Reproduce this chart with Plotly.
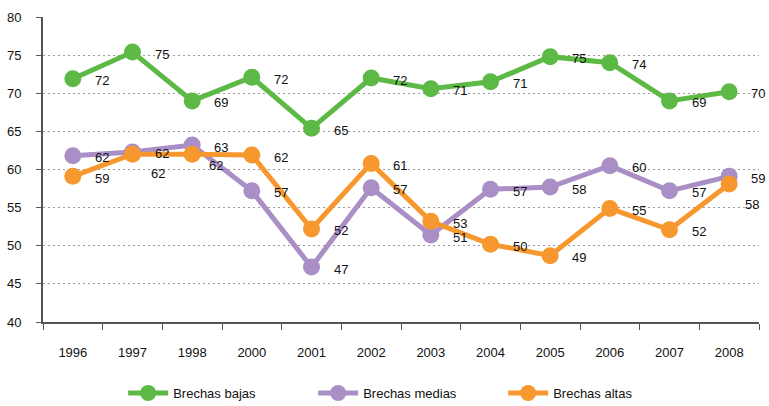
import plotly.graph_objects as go

years = ["1996", "1997", "1998", "2000", "2001", "2002", "2003", "2004", "2005", "2006", "2007", "2008"]
bajas = [71.9, 75.4, 69.0, 72.1, 65.4, 72.0, 70.6, 71.5, 74.8, 74.0, 69.0, 70.2]
medias = [61.8, 62.3, 63.2, 57.2, 47.2, 57.6, 51.4, 57.4, 57.7, 60.5, 57.2, 59.1]
altas = [59.1, 62.0, 62.0, 61.9, 52.2, 60.8, 53.2, 50.2, 48.7, 54.9, 52.1, 58.1]
bajas_labels = ["72", "75", "69", "72", "65", "72", "71", "71", "75", "74", "69", "70"]
medias_labels = ["62", "62", "63", "57", "47", "57", "51", "57", "58", "60", "57", "59"]
altas_labels = ["59", "62", "62", "62", "52", "61", "53", "50", "49", "55", "52", "58"]
names = ["Brechas bajas", "Brechas medias", "Brechas altas"]
colors = ["#5DB946", "#A98FC5", "#F7982E"]

series = [bajas, medias, altas]
labels = [bajas_labels, medias_labels, altas_labels]

FONT = "Liberation Sans, Arial, sans-serif"

fig = go.Figure()
for name, vals, col in zip(names, series, colors):
    fig.add_trace(go.Scatter(
        x=years, y=vals, name=name, mode="lines+markers",
        line=dict(color=col, width=5),
        marker=dict(color=col, size=17),
    ))

# label offsets (px): default right of marker, slightly below
annotations = []
for si, (vals, labs) in enumerate(zip(series, labels)):
    for i, (yr, v, t) in enumerate(zip(years, vals, labs)):
        dx, dy = 29, -2
        if si == 2 and yr == "1997":
            dx, dy = 25, -19
        if si == 2 and yr == "1998":
            dx, dy = 24, -11
        if si == 2 and yr == "2008":
            dx, dy = 23, -21
        annotations.append(dict(
            x=i, y=v, xref="x", yref="y", text=t, showarrow=False,
            xshift=dx, yshift=dy,
            font=dict(family=FONT, size=13, color="#111111"),
        ))

fig.update_layout(
    width=769, height=406,
    margin=dict(l=43, r=10, t=17, b=84, autoexpand=False),
    paper_bgcolor="white", plot_bgcolor="white",
    font=dict(family=FONT, size=13, color="#111111"),
    showlegend=True,
    legend=dict(orientation="h", x=0.51, xanchor="center", y=-0.233, yanchor="middle",
                font=dict(size=13), entrywidth=135, itemwidth=40),
    annotations=annotations,
    xaxis=dict(
        type="category", range=[-0.5, 11.5], tickson="boundaries",
        ticks="outside", ticklen=6, tickcolor="#555555",
        showline=True, linecolor="#555555", linewidth=2,
        showgrid=False, ticklabelstandoff=17, tickfont=dict(size=13),
    ),
    yaxis=dict(
        range=[40, 80], dtick=5, ticks="outside", ticklen=5, tickcolor="#555555",
        showline=True, linecolor="#555555", linewidth=2,
        showgrid=True, gridcolor="#999999", griddash="2px,3px", gridwidth=1.2,
        zeroline=False, tickfont=dict(size=13), ticklabelstandoff=12,
    ),
)

fig.write_html("out.html", config={"displayModeBar": False},
               post_script="document.body.style.margin='0px';document.body.style.overflow='hidden';")
